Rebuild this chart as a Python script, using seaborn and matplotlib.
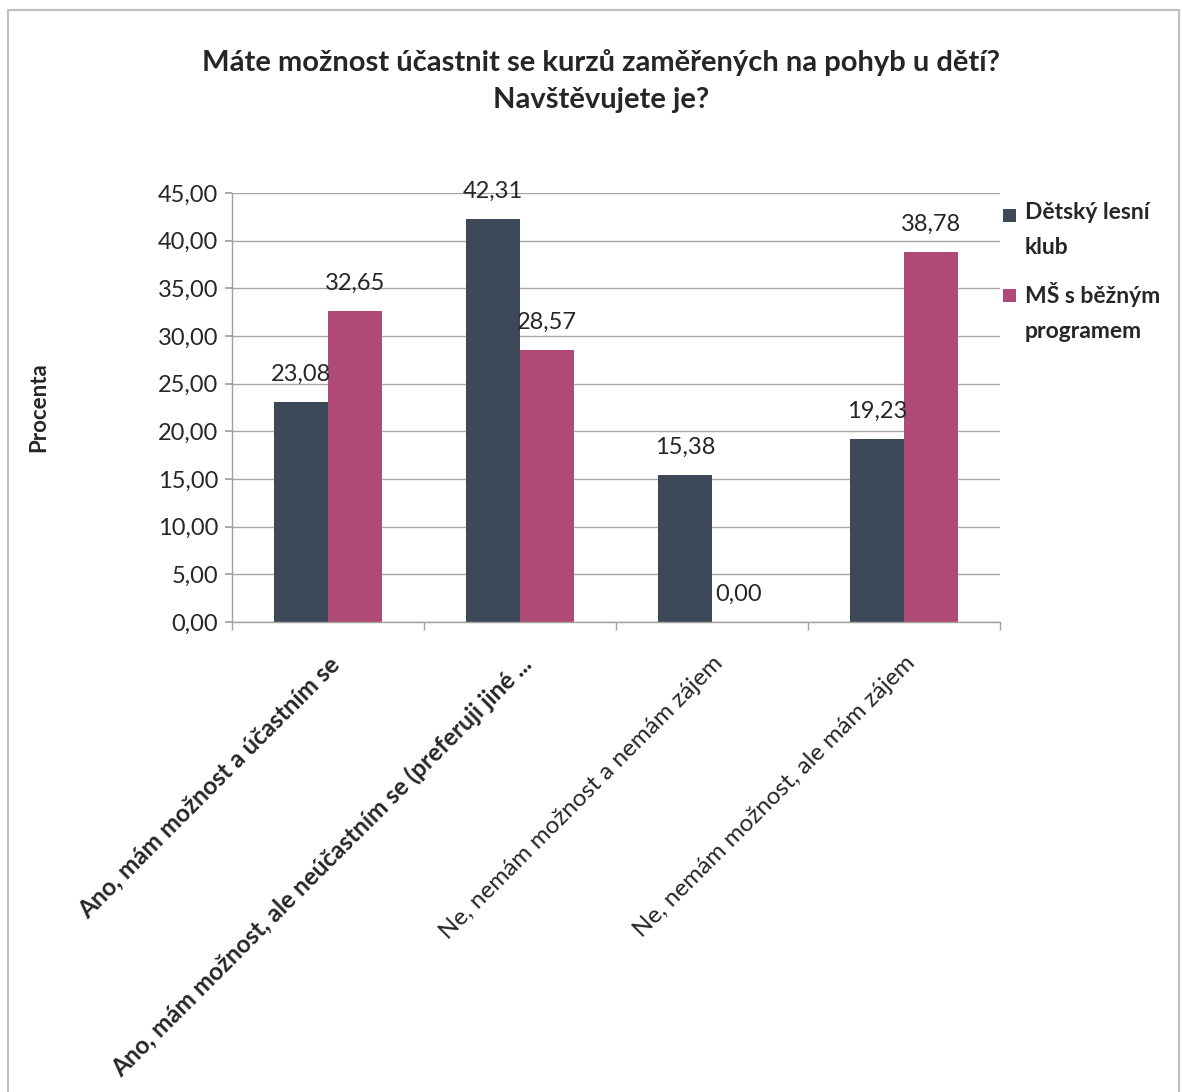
import matplotlib
matplotlib.use("Agg")
import matplotlib.pyplot as plt
import seaborn as sns
import pandas as pd
from matplotlib.patches import Rectangle

categories = [
    "Ano, mám možnost a účastním se",
    "Ano, mám možnost, ale neúčastním se (preferuji jiné ...",
    "Ne, nemám možnost a nemám zájem",
    "Ne, nemám možnost, ale mám zájem",
]
series_names = ["Dětský lesní klub", "MŠ s běžným programem"]
legend_labels = ["Dětský lesní\nklub", "MŠ s běžným\nprogramem"]
dlk_values = [23.08, 42.31, 15.38, 19.23]
ms_values = [32.65, 28.57, 0.00, 38.78]
yticks = [0, 5, 10, 15, 20, 25, 30, 35, 40, 45]
colors = ["#3D4858", "#AF4A77"]

df = pd.DataFrame({
    "kategorie": categories * 2,
    "skupina": [series_names[0]] * 4 + [series_names[1]] * 4,
    "procenta": dlk_values + ms_values,
})

sns.set_theme(style="white")
plt.rcParams["font.family"] = ["Lato", "DejaVu Sans"]

W, H = 1182, 1092
fig = plt.figure(figsize=(W / 100, H / 100), dpi=100)
ax = fig.add_axes([232/W, 1-622/H, (1000-232)/W, (622-193)/H])

sns.barplot(data=df, x="kategorie", y="procenta", hue="skupina",
            palette=colors, width=0.56, ax=ax, legend=False,
            saturation=1, edgecolor="none")

ax.set_xlim(-0.5, 3.5)
ax.set_ylim(0, 45)
ax.set_yticks(yticks)
ax.set_yticklabels([f"{v:.2f}".replace(".", ",") for v in yticks], fontsize=17)
ax.yaxis.grid(True, color="#A6A6A6", linewidth=1)
ax.set_axisbelow(True)
for s in ["top", "right"]:
    ax.spines[s].set_visible(False)
for s in ["left", "bottom"]:
    ax.spines[s].set_color("#A0A0A0")
    ax.spines[s].set_linewidth(1)
ax.tick_params(axis="y", which="major", length=5, color="#A0A0A0", left=True, pad=5)

# x ticks: labels at categories, tick marks at boundaries
ax.set_xticks(range(len(categories)))
ax.set_xticks([-0.5, 0.5, 1.5, 2.5, 3.5], minor=True)
ax.tick_params(axis="x", which="major", length=0, pad=22)
ax.tick_params(axis="x", which="minor", length=6, color="#A0A0A0", bottom=True)
ax.set_xticklabels(categories, rotation=45, ha="right", rotation_mode="anchor", fontsize=17.5)
for i, t in enumerate(ax.get_xticklabels()):
    if i < 2:
        t.set_fontweight("bold")
ax.set_xlabel("")
ax.set_ylabel("Procenta", fontsize=16, fontweight="bold", labelpad=78)

# data labels
for cont, vals in zip(ax.containers, [dlk_values, ms_values]):
    for bar, v in zip(cont, vals):
        ax.annotate(f"{v:.2f}".replace(".", ","),
                    (bar.get_x() + bar.get_width() / 2, bar.get_height()),
                    xytext=(0, 20), textcoords="offset points",
                    ha="center", va="center", fontsize=17)

# legend (drawn manually to align squares with first text line)
leg_y = [215, 295]
for c, lab, y in zip(colors, legend_labels, leg_y):
    fig.patches.append(Rectangle((1003/W, 1-(y+7)/H), 13/W, 13/H,
                                 transform=fig.transFigure, facecolor=c,
                                 edgecolor="none"))
    fig.text(1025/W, 1-(y-13)/H, lab, ha="left", va="top", fontsize=16.5,
             fontweight="bold", linespacing=1.8)

fig.text(601/W, 1-62/H, "Máte možnost účastnit se kurzů zaměřených na pohyb u dětí?",
         ha="center", va="center", fontsize=21, fontweight="bold")
fig.text(601/W, 1-100/H, "Navštěvujete je?",
         ha="center", va="center", fontsize=21, fontweight="bold")

fig.patches.append(Rectangle((8/W, -0.05), (1179-8)/W, 1-10/H+0.05,
                             transform=fig.transFigure, fill=False,
                             edgecolor="#BFBFBF", linewidth=1.5))

fig.savefig("out.png", dpi=100)
